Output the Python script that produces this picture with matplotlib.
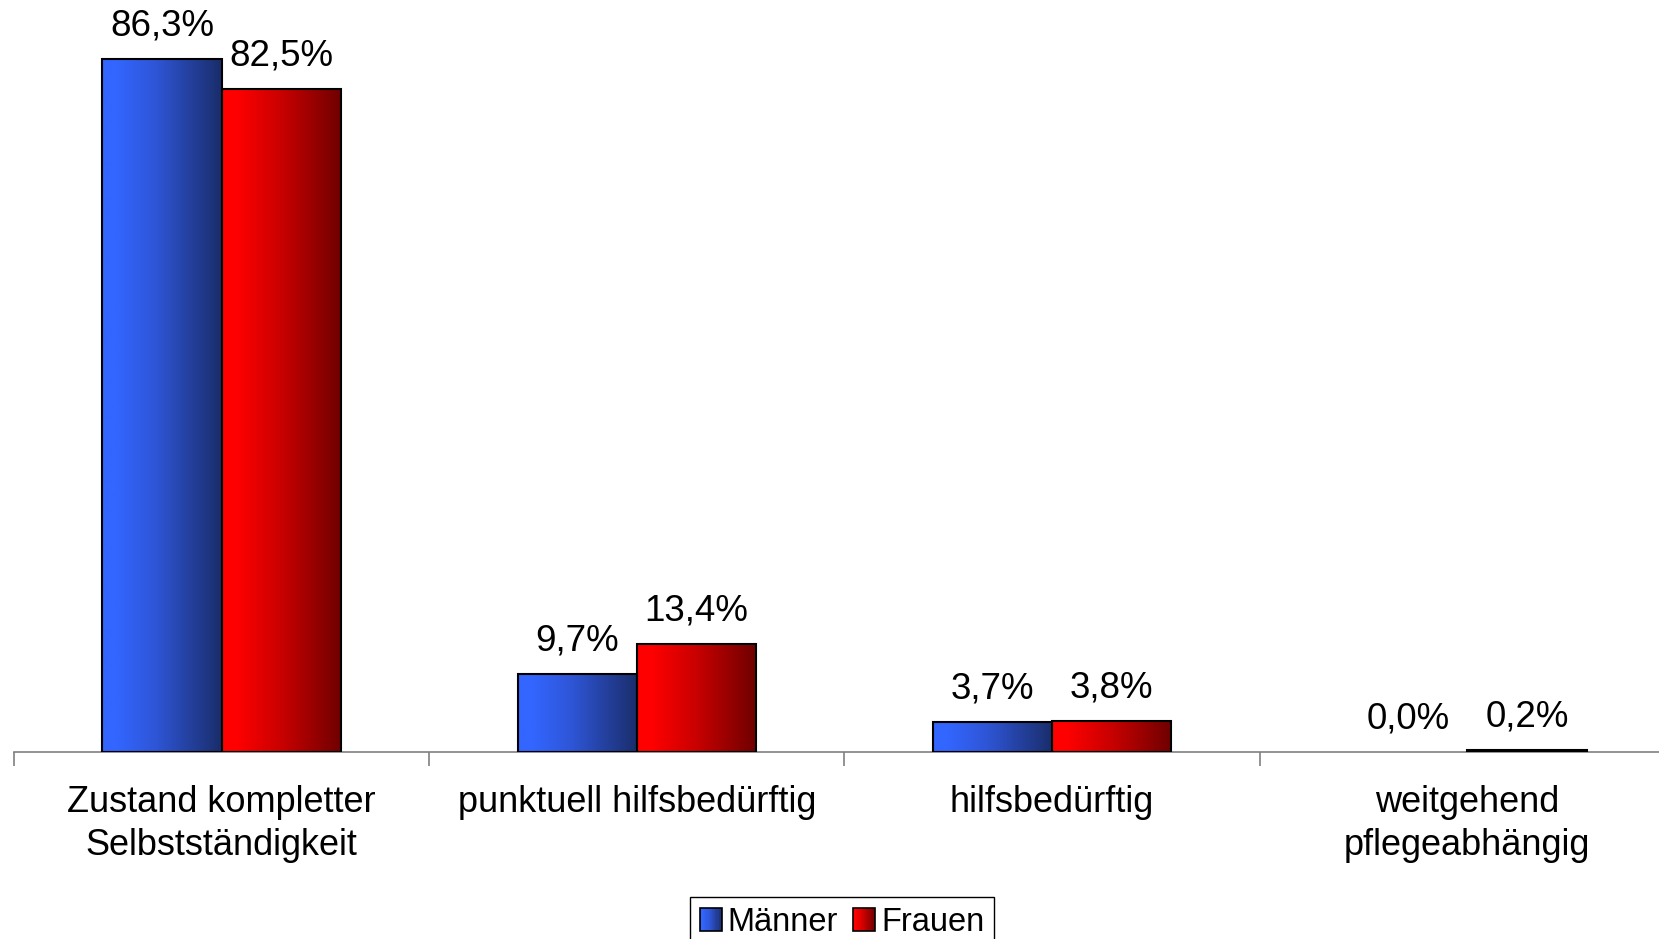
import numpy as np
import matplotlib
matplotlib.use("Agg")
import matplotlib.pyplot as plt
from matplotlib.colors import LinearSegmentedColormap
from matplotlib.patches import Rectangle
from matplotlib.legend_handler import HandlerBase

plt.rcParams['font.family'] = ['Liberation Sans', 'DejaVu Sans']

categories = ["Zustand kompletter\nSelbstständigkeit", "punktuell hilfsbedürftig",
              "hilfsbedürftig", "weitgehend\npflegeabhängig"]
maenner = [86.3, 9.7, 3.7, 0.0]
frauen = [82.5, 13.4, 3.8, 0.2]
series_names = ["Männer", "Frauen"]

blue_cmap = LinearSegmentedColormap.from_list(
    "blue", [(0, "#3366ff"), (0.12, "#3366ff"), (0.45, "#2e55d6"), (1, "#1a2d6a")])
red_cmap = LinearSegmentedColormap.from_list(
    "red", [(0, "#ff0000"), (0.12, "#ff0000"), (0.5, "#c80000"), (1, "#6e0000")])


class GradientHandler(HandlerBase):
    def __init__(self, cmap, **kw):
        super().__init__(**kw)
        self.cmap = cmap

    def create_artists(self, legend, orig_handle, xdescent, ydescent,
                       width, height, fontsize, trans):
        arts = []
        n = 20
        for i in range(n):
            r = Rectangle((-xdescent + width * i / n, -ydescent), width / n + 0.05, height,
                          facecolor=self.cmap((i + 0.5) / n), edgecolor='none',
                          transform=trans)
            arts.append(r)
        arts.append(Rectangle((-xdescent, -ydescent), width, height, facecolor='none',
                              edgecolor='black', lw=1.2, transform=trans))
        return arts


fig = plt.figure(figsize=(16.59, 9.39), dpi=100)
ax = fig.add_axes([14 / 1659, 187 / 939, 1661 / 1659, 723 / 939])

x = np.arange(len(categories))
w = 0.287
grad = np.linspace(0, 1, 256).reshape(1, -1)

for vals, off, cmap in [(maenner, -w / 2, blue_cmap), (frauen, w / 2, red_cmap)]:
    bars = ax.bar(x + off, vals, w, facecolor='none', edgecolor='black', lw=1.5, zorder=3)
    for b, v in zip(bars, vals):
        if v == 0:
            b.set_linewidth(0)
        else:
            ax.imshow(grad, cmap=cmap, aspect='auto', zorder=2,
                      extent=[b.get_x(), b.get_x() + b.get_width(), 0, b.get_height()])
        ax.annotate(f"{v:.1f}%".replace(".", ","), (b.get_x() + b.get_width() / 2, v),
                    xytext=(0, 17), textcoords='offset points', ha='center',
                    va='baseline', fontsize=26.5)

ax.set_xlim(-0.5, len(categories) - 0.5)
ax.set_ylim(0, 90)
for s in ['top', 'right', 'left']:
    ax.spines[s].set_visible(False)
ax.spines['bottom'].set_color('#808080')
ax.spines['bottom'].set_linewidth(1.2)
ax.set_yticks([])

ax.set_xticks(np.arange(len(categories) + 1) - 0.5)
ax.set_xticklabels([])
ax.tick_params(axis='x', which='major', direction='out', length=10, width=1.2, color='#808080')
ax.set_xticks(x, minor=True)
ax.set_xticklabels(categories, minor=True, fontsize=26, linespacing=1.3)
ax.tick_params(axis='x', which='minor', length=0, pad=24)

h1 = Rectangle((0, 0), 1, 1)
h2 = Rectangle((0, 0), 1, 1)
leg = fig.legend([h1, h2], series_names, loc='upper left',
                 bbox_to_anchor=(690 / 1659, 1 - 897 / 939), ncol=2, fontsize=23.5,
                 handler_map={h1: GradientHandler(blue_cmap), h2: GradientHandler(red_cmap)},
                 handlelength=0.68, handleheight=0.68, handletextpad=0.18, columnspacing=0.45,
                 borderpad=0.3, borderaxespad=0, fancybox=False, framealpha=1)
leg.get_frame().set_edgecolor('black')
leg.get_frame().set_linewidth(1.0)

fig.savefig("out.png", dpi=100)
